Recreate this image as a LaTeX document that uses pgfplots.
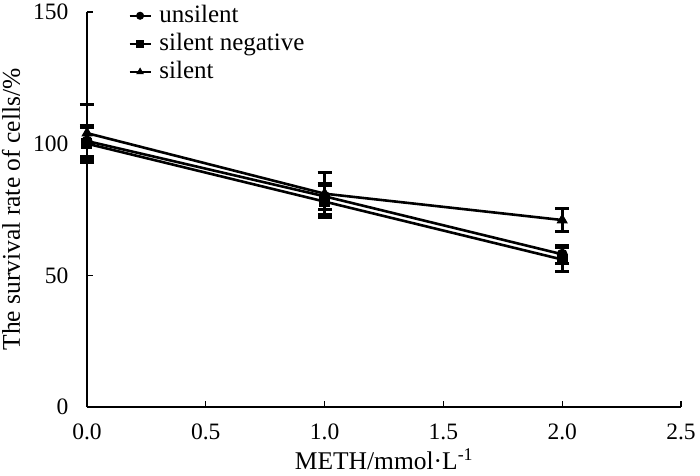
\documentclass[border=0pt]{standalone}
\usepackage{fontspec}
\setmainfont{Liberation Serif}
\usepackage{pgfplots}
\pgfplotsset{compat=1.18}
\begin{document}
\fontsize{25bp}{29bp}\selectfont
\begin{tikzpicture}
\path[use as bounding box] (-87bp,-69bp) rectangle (613bp,407bp);
\begin{axis}[
  scale only axis,
  clip=false,
  width=594bp, height=395bp,
  xmin=0, xmax=2.5, ymin=0, ymax=150,
  axis lines*=left,
  axis line style={line width=1.1bp},
  tick align=inside,
  major tick length=6bp,
  tick style={line width=1.1bp, black},
  xtick={0,0.5,1,1.5,2,2.5},
  ytick={0,50,100,150},
  /pgf/number format/assume math mode=true,
  tick label style={font=\fontsize{23.5bp}{27bp}\selectfont},
  xticklabel style={/pgf/number format/.cd, fixed, fixed zerofill, precision=1, /tikz/.cd, yshift=-8bp},
  yticklabel style={xshift=-10bp},
  xlabel={METH/mmol·L\textsuperscript{-1}},
  ylabel={The survival rate of cells/\%},
  label style={font=\fontsize{25.5bp}{29bp}\selectfont},
  x label style={at={(axis description cs:0.5,-0.133)}, anchor=center},
  y label style={at={(axis description cs:-0.128,0.5)}, anchor=center},
  legend style={at={(axis description cs:0.068,1.024)}, anchor=north west,
    draw=none, fill=none, font=\fontsize{25bp}{29bp}\selectfont,
    row sep=4bp, inner sep=1bp, nodes={inner sep=1.5bp}},
  legend cell align=left,
  legend image code/.code={\draw[mark repeat=2,mark phase=2,line width=2bp,mark size=3.5bp] plot coordinates {(0bp,0bp)(10.5bp,0bp)(21bp,0bp)}; \path (27bp,0bp);},
  error bars/y dir=both,
  error bars/y explicit,
  error bars/error bar style={line width=2.6bp, black},
  error bars/error mark options={rotate=90, mark size=7bp, line width=3bp, black},
]
\addplot[black, line width=2.6bp, mark=*, mark size=5bp, mark options={solid, line width=1bp, fill=black}] coordinates {
  (0,101) +- (0,6)
  (1,80) +- (0,5)
  (2,58) +- (0,3.5)
};
\addlegendentry{unsilent}
\addplot[black, line width=2.6bp, mark=square*, mark size=5bp, mark options={solid, line width=1bp, fill=black}] coordinates {
  (0,100) +- (0,6)
  (1,78) +- (0,6)
  (2,56) +- (0,4.5)
};
\addlegendentry{silent negative}
\addplot[black, line width=2.6bp, mark=triangle*, mark size=5.5bp, mark options={solid, line width=1bp, fill=black}] coordinates {
  (0,104) +- (0,11)
  (1,81) +- (0,8)
  (2,71) +- (0,4.5)
};
\addlegendentry{silent}
\end{axis}
\end{tikzpicture}
\end{document}
